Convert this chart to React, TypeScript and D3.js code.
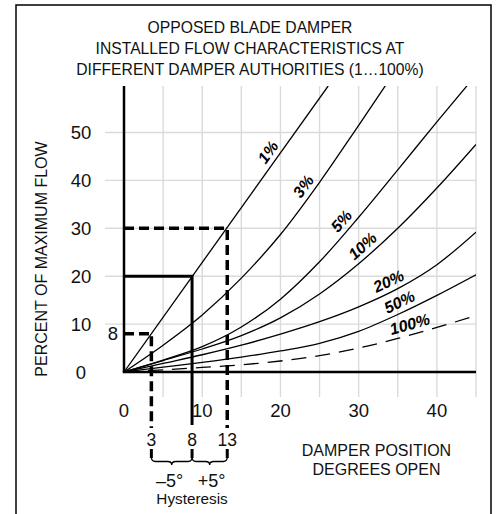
import React from 'react';
import * as d3 from 'd3';

const W = 498;
const H = 514;

const TITLE_LINES = [
  'OPPOSED BLADE DAMPER',
  'INSTALLED FLOW CHARACTERISTICS AT',
  'DIFFERENT DAMPER AUTHORITIES (1…100%)',
];
const X_TITLE = ['DAMPER POSITION', 'DEGREES OPEN'];
const Y_TITLE = 'PERCENT OF MAXIMUM FLOW';

const Y_TICKS = [0, 10, 20, 30, 40, 50];
const X_TICKS = [0, 10, 20, 30, 40];
const X_GRID = [5, 10, 15, 20, 25, 30, 35, 40, 45];
const Y_GRID = [10, 20, 30, 40, 50];

// authority curves: [degrees open, percent of max flow]
const AUTHORITIES = ['1%', '3%', '5%', '10%', '20%', '50%', '100%'];
const CURVE_1: [number, number][] = [[0, 0], [26.1, 59.7]];
const CURVE_3: [number, number][] = [[0, 0], [5, 5.6], [10, 11.9], [15, 19.6], [20, 28.7], [25, 39.6], [30, 51.5], [35, 63.6]];
const CURVE_5: [number, number][] = [[0, 0], [5, 2.5], [10, 5.3], [15, 9.4], [20, 15.2], [25, 23.0], [30, 32.3], [35, 42.2], [40, 52.2], [45, 62.0]];
const CURVE_10: [number, number][] = [[0, 0], [5, 2.4], [10, 4.8], [15, 7.6], [20, 11.3], [25, 16.3], [30, 22.6], [35, 30.0], [40, 38.4], [45, 47.5]];
const CURVE_20: [number, number][] = [[0, 0], [5, 1.8], [10, 3.6], [15, 5.6], [20, 7.9], [25, 10.5], [30, 13.6], [35, 17.4], [40, 22.4], [45, 29.2]];
const CURVE_50: [number, number][] = [[0, 0], [5, 1.0], [10, 2.0], [15, 3.1], [20, 4.4], [25, 6.0], [30, 8.5], [35, 12.0], [40, 16.0], [45, 20.3]];
const CURVE_100: [number, number][] = [[0, 0], [5, 0.45], [10, 0.95], [15, 1.5], [20, 2.3], [25, 3.4], [30, 5.0], [35, 7.0], [40, 9.3], [45, 11.8]];
const CURVES = [CURVE_1, CURVE_3, CURVE_5, CURVE_10, CURVE_20, CURVE_50, CURVE_100];
const DASHED = [false, false, false, false, false, false, true];
const LABEL_AT = [19.5, 24.0, 28.8, 31.4, 34.4, 35.8, 36.9];

// hysteresis example
const HYST_POS = [3.5, 8.7, 13.2];
const HYST_LABELS = ['3', '8', '13'];
const HYST_FLOW = [8, 20, 30];
const HYST_STEPS = ['–5°', '+5°'];
const HYST_WORD = 'Hysteresis';

const FONT = '"Liberation Sans", Arial, Helvetica, sans-serif';

const x = d3.scaleLinear().domain([0, 45]).range([124, 476]);
const y = d3.scaleLinear().domain([0, 59.7]).range([372, 86]);

const lineGen = d3
  .line<[number, number]>()
  .x((d) => x(d[0]))
  .y((d) => y(d[1]))
  .curve(d3.curveMonotoneX);

function interp(c: [number, number][], deg: number): number {
  for (let i = 1; i < c.length; i++) {
    if (deg <= c[i][0]) {
      const t = (deg - c[i - 1][0]) / (c[i][0] - c[i - 1][0]);
      return c[i - 1][1] + t * (c[i][1] - c[i - 1][1]);
    }
  }
  return c[c.length - 1][1];
}

export default function App() {
  const [x0, x1] = x.range();
  const [yb, yt] = y.range();
  const gridBottom = 397;
  const vLineEnd = 428;

  const labels = CURVES.map((c, i) => {
    const deg = LABEL_AT[i];
    const pa = [x(deg - 0.6), y(interp(c, deg - 0.6))];
    const pb = [x(deg + 0.6), y(interp(c, deg + 0.6))];
    const ang = (Math.atan2(pb[1] - pa[1], pb[0] - pa[0]) * 180) / Math.PI;
    return { px: x(deg), py: y(interp(c, deg)), ang, text: AUTHORITIES[i] };
  });

  const braceY = 457;
  const brace = (xa: number, xb: number) => {
    const xm = (xa + xb) / 2;
    const y1 = braceY + 4.5;
    const y2 = braceY + 8;
    return `M${xa},${braceY} Q${xa},${y1} ${xa + 4},${y1} L${xm - 4},${y1} Q${xm},${y1} ${xm},${y2} Q${xm},${y1} ${xm + 4},${y1} L${xb - 4},${y1} Q${xb},${y1} ${xb},${braceY}`;
  };

  return (
    <svg
      width={W}
      height={H}
      style={{ position: 'absolute', left: 0, top: 0, display: 'block', background: '#fff' }}
      fontFamily={FONT}
    >
      <defs>
        <clipPath id="plotClip">
          <rect x={x0} y={yt} width={x1 - x0} height={yb - yt} />
        </clipPath>
      </defs>
      <rect x={0} y={0} width={W} height={H} fill="#fff" />
      <rect x={16} y={5} width={475} height={540} fill="none" stroke="#000" strokeWidth={1.5} />

      {TITLE_LINES.map((t, i) => (
        <text key={t} x={250} y={33.3 + i * 21} textAnchor="middle" fontSize={15.7} fill="#111">
          {t}
        </text>
      ))}

      {/* grid */}
      {X_GRID.map((g) => (
        <line key={'xg' + g} x1={x(g)} x2={x(g)} y1={yt} y2={gridBottom} stroke="#dadada" strokeWidth={1.4} />
      ))}
      {Y_GRID.map((g) => (
        <line key={'yg' + g} x1={105} x2={x1} y1={y(g)} y2={y(g)} stroke="#dadada" strokeWidth={1.4} />
      ))}

      {/* curves */}
      <g clipPath="url(#plotClip)">
        {CURVES.map((c, i) => (
          <path
            key={AUTHORITIES[i]}
            d={lineGen(c) || ''}
            fill="none"
            stroke="#000"
            strokeWidth={1.3}
            strokeDasharray={DASHED[i] ? '15,9' : undefined}
          />
        ))}
      </g>

      {labels.map((l) => (
        <text
          key={l.text}
          transform={`translate(${l.px},${l.py}) rotate(${l.ang})`}
          y={-5}
          textAnchor="middle"
          fontSize={16}
          fontWeight="bold"
          fontStyle="italic"
          fill="#000"
        >
          {l.text}
        </text>
      ))}

      {/* hysteresis guides */}
      <path
        d={`M${x(0)},${y(HYST_FLOW[0])} H${x(HYST_POS[0])} V${vLineEnd}`}
        fill="none"
        stroke="#000"
        strokeWidth={3.5}
        strokeDasharray="10,5"
      />
      <path
        d={`M${x(0)},${y(HYST_FLOW[2])} H${x(HYST_POS[2])} V${vLineEnd}`}
        fill="none"
        stroke="#000"
        strokeWidth={3.5}
        strokeDasharray="10,5"
      />
      <path
        d={`M${x(0)},${y(HYST_FLOW[1])} H${x(HYST_POS[1])} V${425}`}
        fill="none"
        stroke="#000"
        strokeWidth={3}
      />
      {HYST_POS.map((p) => (
        <line key={'hb' + p} x1={x(p)} x2={x(p)} y1={449} y2={458} stroke="#000" strokeWidth={3} strokeDasharray="9,5" />
      ))}
      {HYST_POS.map((p, i) => (
        <text key={'hl' + p} x={x(p)} y={446} textAnchor="middle" fontSize={17.5} fill="#111">
          {HYST_LABELS[i]}
        </text>
      ))}
      <path d={brace(x(HYST_POS[0]), x(HYST_POS[1]))} fill="none" stroke="#000" strokeWidth={1.3} />
      <path d={brace(x(HYST_POS[1]), x(HYST_POS[2]))} fill="none" stroke="#000" strokeWidth={1.3} />
      {HYST_STEPS.map((s, i) => (
        <text
          key={s}
          x={(x(HYST_POS[i]) + x(HYST_POS[i + 1])) / 2 + (i === 0 ? -2 : 2)}
          y={486.5}
          textAnchor="middle"
          fontSize={18}
          fill="#111"
        >
          {s}
        </text>
      ))}
      <text x={x(HYST_POS[1])} y={504} textAnchor="middle" fontSize={15.3} fill="#111">
        {HYST_WORD}
      </text>
      <text x={118} y={y(HYST_FLOW[0]) + 6.6} textAnchor="end" fontSize={18.5} fill="#111">
        {HYST_FLOW[0]}
      </text>

      {/* axes */}
      <line x1={x0} x2={x0} y1={yt} y2={yb} stroke="#000" strokeWidth={2.5} />
      <line x1={x0 - 1.25} x2={x1} y1={yb} y2={yb} stroke="#000" strokeWidth={2.5} />

      {Y_TICKS.map((t) => (
        <text key={'yt' + t} x={81} y={y(t) + 6.7} textAnchor="middle" fontSize={18.5} fill="#111">
          {t}
        </text>
      ))}
      {X_TICKS.map((t) => (
        <text key={'xt' + t} x={x(t)} y={416.7} textAnchor="middle" fontSize={18.5} fill="#111">
          {t}
        </text>
      ))}

      {X_TITLE.map((t, i) => (
        <text key={t} x={376.5} y={455.5 + i * 19} textAnchor="middle" fontSize={16} fill="#111">
          {t}
        </text>
      ))}
      <text transform={`translate(47,259) rotate(-90)`} textAnchor="middle" fontSize={16} fill="#111">
        {Y_TITLE}
      </text>
    </svg>
  );
}
